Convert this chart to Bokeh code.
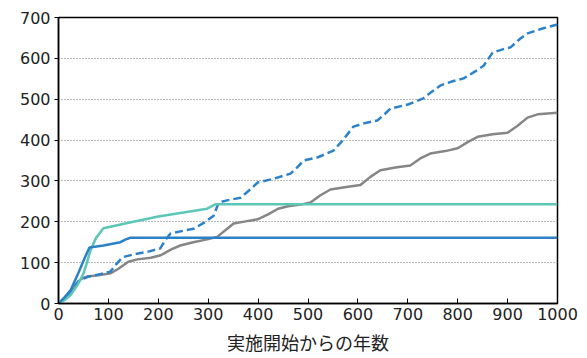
from bokeh.plotting import figure
from bokeh.embed import file_html
from bokeh.resources import INLINE
from bokeh.models import FixedTicker, Range1d

# data
grey_x = [0,20,35,45,58,80,105,120,140,158,185,205,225,244,270,298,318,335,351,375,399,420,440,460,485,505,525,545,570,605,625,645,675,705,725,745,775,800,820,840,870,900,920,940,960,1000]
grey_y = [0,22,45,60,66,69,74,85,102,108,112,118,132,142,150,157,163,180,196,201,206,218,232,238,242,247,265,279,284,290,310,326,333,338,355,367,373,380,395,408,414,418,435,455,463,467]

dash_x = [0,20,40,60,85,104,115,128,150,180,204,214,224,250,271,292,311,321,340,365,385,399,430,465,480,491,520,551,570,591,615,639,655,665,700,731,750,766,790,812,835,852,862,870,890,906,925,940,970,1000]
dash_y = [0,22,55,66,72,78,95,113,120,127,135,155,171,178,183,198,215,247,253,259,280,296,305,318,335,350,358,374,400,433,442,448,465,477,487,502,520,534,544,551,568,582,600,614,622,627,648,661,673,683]

teal_x = [0,12,24,38,50,57,64,75,90,150,200,298,315,1000]
teal_y = [0,8,20,45,73,100,130,160,184,200,213,232,243,243]

blue_x = [0,12,24,40,52,62,90,124,135,144,1000]
blue_y = [0,15,32,75,110,137,142,150,157,161,161]

x_ticks = [0,100,200,300,400,500,600,700,800,900,1000]
y_ticks = [0,100,200,300,400,500,600,700]
x_label = "実施開始からの年数"

p = figure(width=579, height=358, output_backend="svg", toolbar_location=None,
           x_range=Range1d(0, 1000), y_range=Range1d(0, 700),
           min_border_left=58, min_border_right=22, min_border_top=17, min_border_bottom=55)

p.line(grey_x, grey_y, line_color="#868686", line_width=2.5)
p.line(dash_x, dash_y, line_color="#2B82CB", line_width=2.5, line_dash="8 4")
p.line(teal_x, teal_y, line_color="#5CC7B8", line_width=2.5)
p.line(blue_x, blue_y, line_color="#2B80C6", line_width=2.5)

p.outline_line_color="black"
p.outline_line_width=1.5
p.outline_line_alpha=1

p.xgrid.visible=False
p.ygrid.grid_line_color="#777777"
p.ygrid.grid_line_dash="1 2"
p.ygrid.grid_line_width=1
p.ygrid.ticker = FixedTicker(ticks=y_ticks)

p.xaxis.ticker = FixedTicker(ticks=x_ticks)
p.yaxis.ticker = FixedTicker(ticks=y_ticks)
p.xaxis.minor_tick_line_color=None
p.yaxis.minor_tick_line_color=None
p.xaxis.major_tick_in=5
p.xaxis.major_tick_out=0
p.yaxis.major_tick_in=0
p.yaxis.major_tick_out=4
for ax in (p.xaxis, p.yaxis):
    ax.axis_line_color="black"
    ax.axis_line_width=1.5
    ax.major_tick_line_color="black"
    ax.major_tick_line_width=1
    ax.major_label_text_font="DejaVu Sans"
    ax.major_label_text_font_size="16px"
    ax.major_label_text_color="#222222"
p.xaxis.major_label_standoff=4
p.yaxis.major_label_standoff=4
p.xaxis.axis_label = x_label
p.xaxis.axis_label_text_font="Noto Sans CJK JP"
p.xaxis.axis_label_text_font_style="normal"
p.xaxis.axis_label_text_font_size="18px"
p.xaxis.axis_label_text_color="#222222"
p.xaxis.axis_label_standoff=6

open("out.html", "w").write(file_html(p, INLINE))
